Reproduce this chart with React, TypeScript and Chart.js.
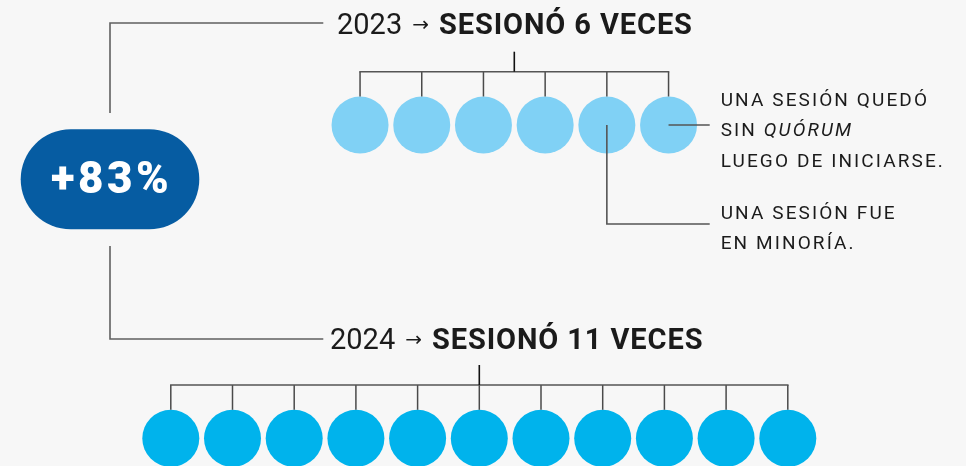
import { useEffect, useRef } from 'react';
import { Chart, registerables } from 'chart.js';

Chart.register(...registerables);

// ---------- data ----------
const years = ['2023', '2024'];
const sessionCounts = [6, 11];
const changeLabel = '+83%';
const titleVerb = 'SESIONÓ';
const titleUnit = 'VECES';
// 2023 notes (session number is 1-based within the 2023 row)
const quorumNoteSession = 6;
const quorumNoteLines = [
  [{ t: 'UNA SESIÓN QUEDÓ', i: false }],
  [{ t: 'SIN ', i: false }, { t: 'QUÓRUM', i: true }],
  [{ t: 'LUEGO DE INICIARSE.', i: false }],
];
const minorityNoteSession = 5;
const minorityNoteLines = ['UNA SESIÓN FUE', 'EN MINORÍA.'];

// ---------- layout / style ----------
const W = 966;
const H = 466;
const BG = '#f7f7f7';
const ROW_Y = [125, 438.3];
const ROW_CX = [514.3, 479.3];
const STEP = 61.7;
const R = 28.5;
const ROW_COLORS = ['#80d1f5', '#00b3ec'];
const TITLE_X = [337, 330];
const TITLE_BASE = [34.3, 349];
const LEADER_X = 110;
const LEADER_Y = [23, 339];
const LEADER_END = 323.3;
const PILL = { cx: 110, cy: 179.3, w: 178.6, h: 100, color: '#065ca2' };
const NOTE_X = 720.7;
const NOTE_LINE_END = 709.7;
const LINE_GRAY = '#606060';
const TEXT = '#1b1b1b';

function rowPoints(r: number) {
  const n = sessionCounts[r];
  return Array.from({ length: n }, (_, i) => ({
    x: ROW_CX[r] + (i - (n - 1) / 2) * STEP,
    y: ROW_Y[r],
  }));
}

const drawPlugin = {
  id: 'infographic',
  beforeDraw(chart: any) {
    const ctx = chart.ctx;
    ctx.save();
    ctx.fillStyle = BG;
    ctx.fillRect(0, 0, chart.width, chart.height);
    ctx.restore();
  },
  afterDatasetsDraw(chart: any) {
    const ctx: CanvasRenderingContext2D = chart.ctx;
    const xs = chart.scales.x;
    const ys = chart.scales.y;
    const px = (v: number) => xs.getPixelForValue(v);
    const py = (v: number) => ys.getPixelForValue(v);
    ctx.save();
    const line = (pts: number[][], color: string, w = 1.6) => {
      ctx.beginPath();
      ctx.strokeStyle = color;
      ctx.lineWidth = w;
      pts.forEach(([x, y], i) => (i ? ctx.lineTo(x, y) : ctx.moveTo(x, y)));
      ctx.stroke();
    };

    years.forEach((year, r) => {
      const meta = chart.getDatasetMeta(r);
      const pts = meta.data.map((e: any) => ({ x: e.x, y: e.y }));
      const rowY = pts[0].y;
      const bracketY = rowY - 53.3;
      const first = pts[0].x;
      const last = pts[pts.length - 1].x;
      // ticks
      pts.forEach((p: any) => line([[p.x, bracketY], [p.x, rowY - R]], '#4a4a4a', 1.5));
      line([[first - 0.75, bracketY], [last + 0.75, bracketY]], '#555', 1.6);
      const mid = (first + last) / 2;
      line([[mid, bracketY - 20], [mid, bracketY]], '#111', 1.6);

      // title
      let x = px(TITLE_X[r]);
      const base = py(TITLE_BASE[r]);
      ctx.fillStyle = TEXT;
      ctx.textBaseline = 'alphabetic';
      ctx.textAlign = 'left';
      ctx.font = '29px Roboto';
      (ctx as any).letterSpacing = '0px';
      ctx.fillText(year, x, base);
      x += ctx.measureText(year).width + 10;
      ctx.font = '20px "DejaVu Sans"';
      ctx.fillText('→', x, base - 3);
      x += ctx.measureText('→').width + 10;
      ctx.font = 'bold 29px Roboto';
      (ctx as any).letterSpacing = '0.9px';
      ctx.fillText(`${titleVerb} ${sessionCounts[r]} ${titleUnit}`, x, base);
      (ctx as any).letterSpacing = '0px';

      // leader from the pill
      const ly = py(LEADER_Y[r]);
      const lx = px(LEADER_X);
      const pillEdge = r === 0 ? py(PILL.cy - PILL.h / 2 - 16.3) : py(PILL.cy + PILL.h / 2 + 16.7);
      line([[lx, pillEdge], [lx, ly], [px(LEADER_END), ly]], LINE_GRAY, 1.6);
    });

    // pill
    const pw = PILL.w, ph = PILL.h;
    const pl = px(PILL.cx) - pw / 2, pt = py(PILL.cy) - ph / 2;
    ctx.beginPath();
    ctx.fillStyle = PILL.color;
    ctx.roundRect(pl, pt, pw, ph, ph / 2);
    ctx.fill();
    ctx.fillStyle = '#ffffff';
    ctx.font = '900 44px Roboto';
    (ctx as any).letterSpacing = '3.5px';
    ctx.textAlign = 'center';
    ctx.fillText(changeLabel, px(PILL.cx) + 1.7, py(193.3));
    (ctx as any).letterSpacing = '0px';
    ctx.textAlign = 'left';

    // notes (2023 row)
    const meta0 = chart.getDatasetMeta(0);
    const q = meta0.data[quorumNoteSession - 1];
    const m = meta0.data[minorityNoteSession - 1];
    line([[q.x, q.y], [px(NOTE_LINE_END), q.y]], '#555', 1.6);
    line([[m.x, m.y], [m.x, py(224)], [px(NOTE_LINE_END), py(224)]], '#555', 1.6);

    ctx.fillStyle = TEXT;
    (ctx as any).letterSpacing = '2.1px';
    quorumNoteLines.forEach((segs, i) => {
      let x = px(NOTE_X);
      const y = py(105.7 + i * 30.5);
      segs.forEach((s) => {
        ctx.font = (s.i ? 'italic ' : '') + '19px Roboto';
        ctx.fillText(s.t, x, y);
        x += ctx.measureText(s.t).width;
      });
    });
    minorityNoteLines.forEach((t, i) => {
      ctx.font = '19px Roboto';
      ctx.fillText(t, px(NOTE_X), py(219.3 + i * 30));
    });
    (ctx as any).letterSpacing = '0px';
    ctx.restore();
  },
};

export default function App() {
  const ref = useRef<HTMLCanvasElement>(null);
  useEffect(() => {
    if (!ref.current) return;
    const chart = new Chart(ref.current, {
      type: 'scatter',
      data: {
        datasets: years.map((y, r) => ({
          label: y,
          data: rowPoints(r),
          pointRadius: R,
          pointHoverRadius: R,
          pointBorderWidth: 0,
          pointBackgroundColor: ROW_COLORS[r],
          backgroundColor: ROW_COLORS[r],
          borderColor: ROW_COLORS[r],
          showLine: false,
          clip: false,
        })),
      },
      options: {
        responsive: false,
        animation: false,
        devicePixelRatio: 1,
        events: [],
        layout: { padding: 0, autoPadding: false },
        plugins: { legend: { display: false }, tooltip: { enabled: false } },
        scales: {
          x: { type: 'linear', min: 0, max: W, display: false },
          y: { type: 'linear', min: 0, max: H, reverse: true, display: false },
        },
      },
      plugins: [drawPlugin],
    } as any);
    return () => chart.destroy();
  }, []);
  return (
    <div style={{ position: 'fixed', left: 0, top: 0, width: W, height: H, background: BG }}>
      <canvas ref={ref} width={W} height={H} style={{ display: 'block' }} />
    </div>
  );
}
